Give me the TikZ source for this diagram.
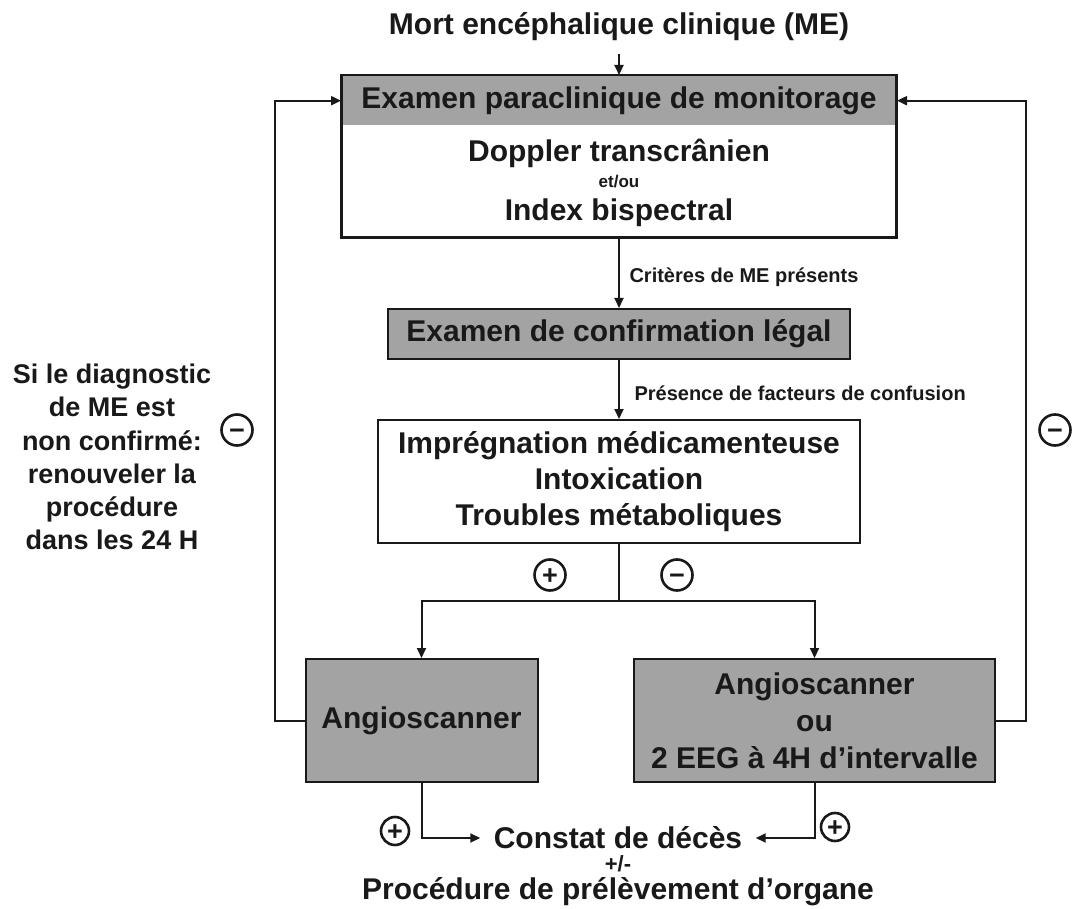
\documentclass[tikz,border=0pt]{standalone}
\usepackage{fontspec}
\setmainfont{Liberation Sans}
\usetikzlibrary{arrows.meta,calc}
\definecolor{boxgray}{RGB}{163,163,163}
\definecolor{ink}{RGB}{25,25,25}
\begin{document}
\begin{tikzpicture}[x=1pt,y=-1pt,
  big/.style={font=\fontsize{30}{36}\selectfont\bfseries, text=ink},
  small/.style={font=\fontsize{20}{22}\selectfont\bfseries, text=ink},
  line/.style={line width=2pt,draw=ink},
  arr/.style={line, -{Triangle[length=10pt,width=9pt]}},
  graybox/.style={draw=ink, line width=2pt, fill=boxgray, inner sep=0pt},
  whitebox/.style={draw=ink, line width=2pt, fill=white, inner sep=0pt},
  sign/.style={circle, draw=ink, line width=2.6pt, inner sep=0pt, text=ink,
    font=\fontsize{27}{27}\selectfont\bfseries, text height=19pt, text depth=0pt}
]
\fill[white] (0,0) rectangle (1076,909);
\useasboundingbox (0,0) rectangle (1076,909);

% title
\node[big] (title) at (619,27) {Mort encéphalique clinique (ME)};

% top box
\node[whitebox, minimum width=554pt, minimum height=161pt] (top) at (619,156.5) {};
\node[fill=boxgray, minimum width=552pt, minimum height=49pt, inner sep=0pt, anchor=north, big] (hdr) at ([yshift=-1pt]top.north) {Examen paraclinique de monitorage};
\draw[line] (top.north west) rectangle (top.south east);
\node[big] (dop) at (619,153) {Doppler transcrânien};
\node[font=\fontsize{17}{17}\selectfont\bfseries, text=ink] (etou) at (619,182) {et/ou};
\node[big] (idx) at (619,213) {Index bispectral};

% confirmation
\node[graybox, minimum width=462pt, minimum height=50pt, big] (conf) at (619,334) {Examen de confirmation légal};

% middle
\node[whitebox, minimum width=482pt, minimum height=123pt, big, align=center] (mid) at (619,481.5) {Imprégnation médicamenteuse\\Intoxication\\Troubles métaboliques};

% lower boxes
\node[graybox, minimum width=232pt, minimum height=123pt, big] (lbox) at (421.5,720.5) {Angioscanner};
\node[graybox, minimum width=361pt, minimum height=123pt, big, align=center, font=\fontsize{30}{37}\selectfont\bfseries] (rbox) at (814.5,720.5) {Angioscanner\\ou\\2 EEG à 4H d’intervalle};

% labels
\node[small, anchor=west] (crit) at (626,277) {Critères de ME présents};
\node[small, anchor=west] (pres) at (631,393) {Présence de facteurs de confusion};

% left note
\node[font=\fontsize{27}{33.3}\selectfont\bfseries, text=ink, align=center] (note) at (112,457) {Si le diagnostic\\de ME est\\non confirmé:\\renouveler la\\procédure\\dans les 24 H};

% bottom
\node[big] (constat) at (618,838) {Constat de décès};
\node[font=\fontsize{22}{22}\selectfont\bfseries, text=ink] (pm) at (618,864) {+/-};
\node[big] (proc) at (618,892) {Procédure de prélèvement d’organe};

% coordinates
\coordinate (split) at (619,601);
\coordinate (lfb) at (275,720.5);
\coordinate (rfb) at (1026,720.5);

% connectors
\draw[arr] ([yshift=-9pt]title.south) -- (top.north);
\draw[arr] (top) -- (conf);
\draw[arr] (conf) -- (mid);
\draw[line] (mid.south) -- (split);
\draw[arr] (split) -| (lbox);
\draw[arr] (split) -| (rbox);
\draw[arr] (lbox.west) -- (lfb) |- (top.west |- hdr.west);
\draw[arr] (rbox.east) -- (rfb) |- (top.east |- hdr.east);
\draw[arr, shorten >=10pt] (lbox.south) |- (constat.west);
\draw[arr, shorten >=10pt] (rbox.south) |- (constat.east);

% signs
\node[sign, minimum size=31pt] (s1) at (550,575) {+};
\node[sign, minimum size=31pt] (s2) at (677,575) {−};
\node[sign, minimum size=28pt] (s3) at (395,831) {+};
\node[sign, minimum size=28pt] (s4) at (835,827) {+};
\node[sign, minimum size=31pt] (s5) at (237,430) {−};
\node[sign, minimum size=31pt] (s6) at (1055,430) {−};
\end{tikzpicture}
\end{document}
